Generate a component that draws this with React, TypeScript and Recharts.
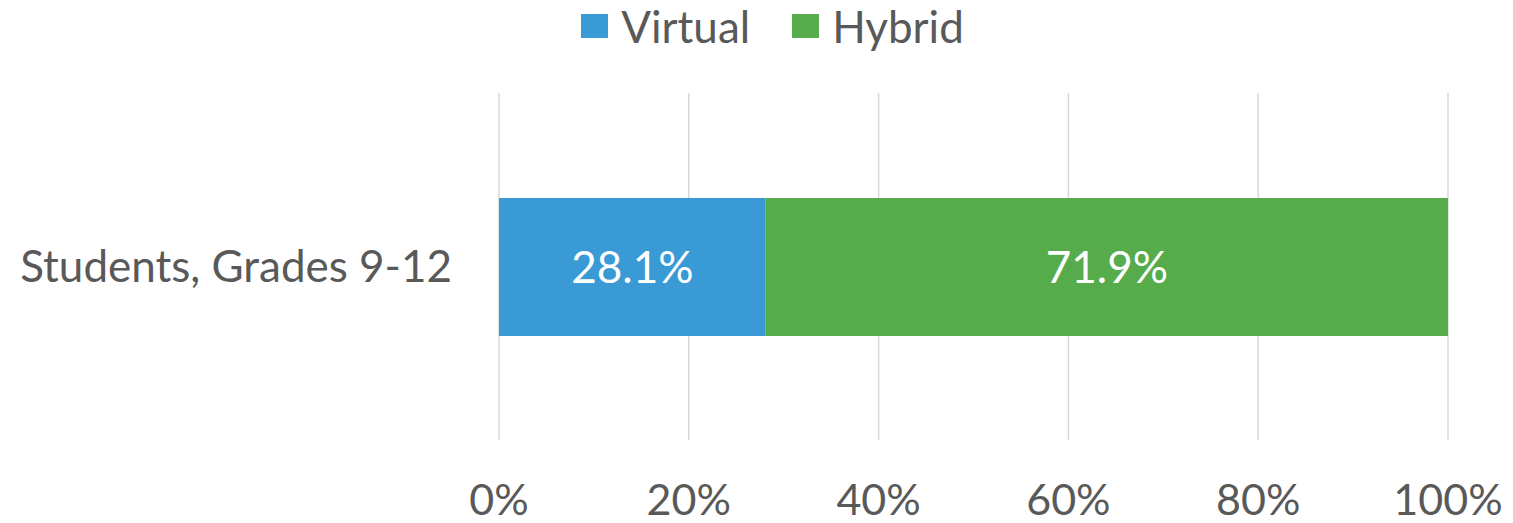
import React from "react";
import { BarChart, Bar, XAxis, YAxis, CartesianGrid, Legend, LabelList } from "recharts";

const categories = ["Students, Grades 9-12"];
const virtualValues = [28.1];
const hybridValues = [71.9];
const xTicks = [0, 20, 40, 60, 80, 100];

const seriesInfo = [
  { key: "virtual", name: "Virtual", color: "#3A9AD5" },
  { key: "hybrid", name: "Hybrid", color: "#56AC4A" },
];

const data = categories.map((c, i) => ({
  name: c,
  virtual: virtualValues[i],
  hybrid: hybridValues[i],
}));

const FONT = "Lato, 'Open Sans', sans-serif";
const TEXT = "#595959";

const renderLegend = () => (
  <div style={{ display: "flex", justifyContent: "center", fontFamily: FONT, fontSize: 44, color: TEXT, lineHeight: "52px", paddingLeft: 32 }}>
    {seriesInfo.map((s) => (
      <div key={s.key} style={{ display: "flex", alignItems: "center", margin: "0 21px" }}>
        <span style={{ width: 27, height: 24, background: s.color, display: "inline-block", marginRight: 13 }} />
        <span>{s.name}</span>
      </div>
    ))}
  </div>
);

const App: React.FC = () => {
  return (
    <div style={{ position: "absolute", left: 0, top: 0, background: "#fff" }}>
      <BarChart
        width={1513}
        height={523}
        data={data}
        layout="vertical"
        margin={{ top: 41, right: 65, bottom: 0, left: 0 }}
        barSize={138}
      >
        <CartesianGrid horizontal={false} stroke="#D9D9D9" strokeWidth={1.5} />
        <XAxis
          type="number"
          domain={[0, 100]}
          ticks={xTicks}
          tickFormatter={(v: number) => `${v}%`}
          axisLine={false}
          tickLine={false}
          tickSize={0}
          tickMargin={44}
          height={83}
          tick={{ fill: TEXT, fontSize: 43, fontFamily: FONT }}
        />
        <YAxis
          type="category"
          dataKey="name"
          axisLine={false}
          tickLine={false}
          tickSize={0}
          tickMargin={47}
          width={499}
          tick={{ fill: TEXT, fontSize: 44, fontFamily: FONT }}
        />
        <Legend
          verticalAlign="top"
          content={renderLegend}
          wrapperStyle={{ top: 0, left: 0, width: 1513 }}
        />
        {seriesInfo.map((s) => (
          <Bar key={s.key} dataKey={s.key} name={s.name} stackId="a" fill={s.color} isAnimationActive={false}>
            <LabelList
              dataKey={s.key}
              position="center"
              formatter={(v: number) => `${v}%`}
              fill="#ffffff"
              style={{ fontSize: 44, fontFamily: FONT }}
            />
          </Bar>
        ))}
      </BarChart>
    </div>
  );
};

export default App;
